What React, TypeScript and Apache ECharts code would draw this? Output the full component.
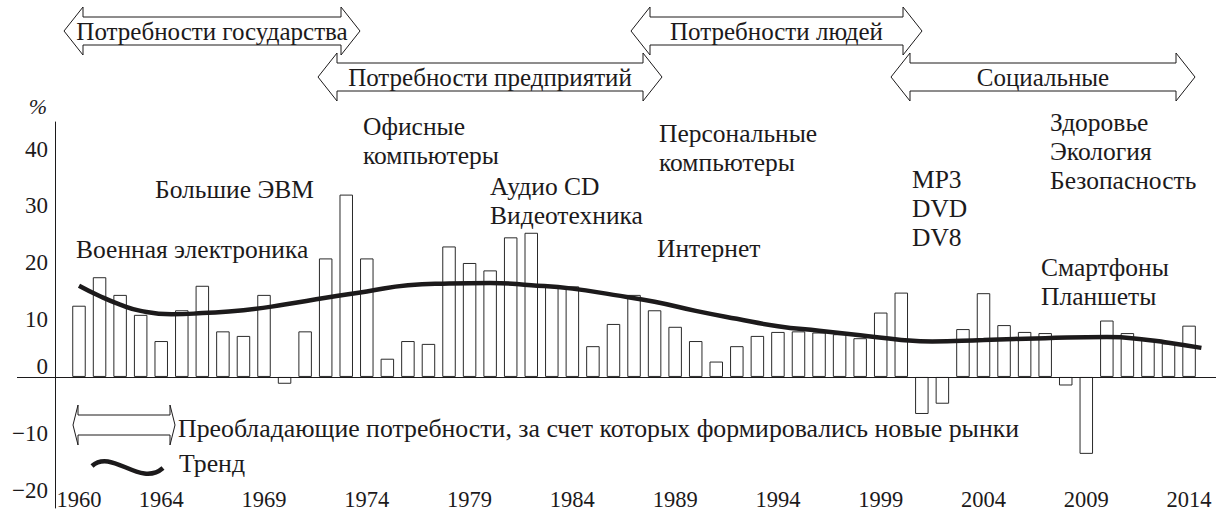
import React, { useEffect, useRef } from "react";
import * as echarts from "echarts";

// ---- data ----
const years = [
  1960, 1961, 1962, 1963, 1964, 1965, 1966, 1967, 1968, 1969,
  1970, 1971, 1972, 1973, 1974, 1975, 1976, 1977, 1978, 1979,
  1980, 1981, 1982, 1983, 1984, 1985, 1986, 1987, 1988, 1989,
  1990, 1991, 1992, 1993, 1994, 1995, 1996, 1997, 1998, 1999,
  2000, 2001, 2002, 2003, 2004, 2005, 2006, 2007, 2008, 2009,
  2010, 2011, 2012, 2013, 2014,
];
const growth = [
  12.5, 17.5, 14.4, 10.9, 6.3, 11.7, 16.0, 8.0, 7.2, 14.4,
  -1.2, 8.0, 20.8, 32.0, 20.8, 3.2, 6.3, 5.8, 22.9, 20.0,
  18.7, 24.5, 25.3, 15.9, 15.9, 5.4, 9.3, 14.4, 11.7, 8.8,
  6.3, 2.7, 5.4, 7.2, 7.9, 8.0, 7.8, 7.5, 6.8, 11.3,
  14.8, -6.5, -4.7, 8.4, 14.7, 9.1, 7.9, 7.7, -1.5, -13.5,
  9.9, 7.7, 6.5, 5.9, 9.0,
];
const trendYears = [
  1960, 1961, 1962, 1963, 1964.5, 1966, 1968, 1970, 1972, 1974,
  1976, 1978, 1980, 1982, 1984, 1986, 1988, 1990, 1992, 1994,
  1996, 1998, 2000, 2001.5, 2004, 2007, 2010, 2012, 2013, 2014.6,
];
const trendValues = [
  16.0, 14.2, 12.7, 11.6, 11.0, 11.2, 11.7, 12.7, 13.9, 15.0,
  16.1, 16.4, 16.5, 16.1, 15.5, 14.4, 13.2, 11.6, 10.2, 8.9,
  8.1, 7.3, 6.5, 6.2, 6.5, 6.8, 7.0, 6.5, 6.0, 5.1,
];
const yTicks = [-20, -10, 0, 10, 20, 30, 40];
const xTicks = [1960, 1964, 1969, 1974, 1979, 1984, 1989, 1994, 1999, 2004, 2009, 2014];
const needLabels = [
  "Потребности государства",
  "Потребности предприятий",
  "Потребности людей",
  "Социальные",
];
const annotationTexts = [
  ["Военная электроника"],
  ["Большие ЭВМ"],
  ["Офисные", "компьютеры"],
  ["Аудио CD", "Видеотехника"],
  ["Персональные", "компьютеры"],
  ["Интернет"],
  ["MP3", "DVD", "DV8"],
  ["Здоровье", "Экология", "Безопасность"],
  ["Смартфоны", "Планшеты"],
];
const legendNeeds = "Преобладающие потребности, за счет которых формировались новые рынки";
const legendTrend = "Тренд";
const unitLabel = "%";

// ---- layout (pixels) ----
const FONT = "Liberation Serif";
const INK = "#1c1a1b";
const needArrows = [
  { x1: 64, x2: 360, cy: 31 },
  { x1: 318, x2: 662, cy: 77 },
  { x1: 631, x2: 922, cy: 31 },
  { x1: 891, x2: 1195, cy: 77 },
];
const annotationPos = [
  { x: 76, y: 258 },
  { x: 155, y: 198 },
  { x: 363, y: 135 },
  { x: 490, y: 195 },
  { x: 659, y: 142 },
  { x: 657, y: 257 },
  { x: 912, y: 188 },
  { x: 1050, y: 131 },
  { x: 1041, y: 276 },
];

function arrowPoints(x1: number, x2: number, cy: number, h: number, hh: number, sh: number) {
  return [
    [x1, cy],
    [x1 + h, cy - hh],
    [x1 + h, cy - sh],
    [x2 - h, cy - sh],
    [x2 - h, cy - hh],
    [x2, cy],
    [x2 - h, cy + hh],
    [x2 - h, cy + sh],
    [x1 + h, cy + sh],
    [x1 + h, cy + hh],
  ];
}

function txt(x: number, y: number, text: string, size: number, align = "left", extra: any = {}) {
  return {
    type: "text",
    x,
    y,
    style: {
      text,
      fontFamily: FONT,
      fontSize: size,
      fill: INK,
      align,
      verticalAlign: "middle",
      ...extra,
    },
    z: 11,
  };
}

export default function App() {
  const ref = useRef<HTMLDivElement>(null);
  useEffect(() => {
    if (!ref.current) return;
    const chart = echarts.init(ref.current, null, { renderer: "svg" });

    const graphics: any[] = [];
    needArrows.forEach((a, i) => {
      graphics.push({
        type: "polygon",
        shape: { points: arrowPoints(a.x1, a.x2, a.cy, 19, 24, 14) },
        style: { fill: "none", stroke: INK, lineWidth: 1 },
        z: 10,
      });
      graphics.push(txt((a.x1 + a.x2) / 2, a.cy, needLabels[i], 25, "center"));
    });
    annotationTexts.forEach((lines, i) => {
      const p = annotationPos[i];
      lines.forEach((t, j) => {
        graphics.push(txt(p.x, p.y + j * 29 - 8.5, t, 25.5));
      });
    });
    graphics.push({
      type: "polygon",
      shape: { points: arrowPoints(73, 175, 425, 5, 20, 10) },
      style: { fill: "none", stroke: INK, lineWidth: 1 },
      z: 10,
    });
    graphics.push(txt(178, 428.5, legendNeeds, 25.8));
    graphics.push({
      type: "bezierCurve",
      shape: { x1: 92, y1: 466, cpx1: 112, cpy1: 448, cpx2: 140, cpy2: 488, x2: 163, y2: 468 },
      style: { fill: "none", stroke: INK, lineWidth: 4.5 },
      z: 10,
    });
    graphics.push(txt(179, 463.5, legendTrend, 25.8));
    graphics.push(txt(38, 106, unitLabel, 22, "center", { fontStyle: "italic" }));

    chart.setOption({
      animation: false,
      backgroundColor: "#ffffff",
      grid: { left: 17, right: 0, top: 122, bottom: 4, containLabel: false },
      xAxis: {
        type: "value",
        min: 1956.984,
        max: 2015.31,
        offset: -22,
        axisLine: { show: false, onZero: false },
        axisTick: { show: false },
        splitLine: { show: false },
        axisLabel: {
          customValues: xTicks,
          margin: 2,
          color: INK,
          fontFamily: FONT,
          fontSize: 22.5,
          formatter: (v: number) => String(v),
        },
      },
      yAxis: {
        type: "value",
        min: -23,
        max: 44.74,
        offset: -38,
        axisLine: { show: true, onZero: false, lineStyle: { color: INK, width: 1 } },
        axisTick: { show: false },
        splitLine: { show: false },
        axisLabel: {
          customValues: yTicks,
          margin: 7,
          color: INK,
          fontFamily: FONT,
          fontSize: 23,
          formatter: (v: number) => (v === 0 ? "{z|0}" : v < 0 ? "\u2212" + Math.abs(v) : String(v)),
          rich: { z: { fontFamily: FONT, fontSize: 23, color: INK, padding: [0, 0, 20, 0] } },
        },
      },
      series: [
        {
          type: "bar",
          data: years.map((y, i) => [y, growth[i]]),
          barWidth: 13.5,
          itemStyle: { color: "#ffffff", borderColor: "#2a2a2a", borderWidth: 1 },
          markLine: {
            silent: true,
            symbol: ["none", "none"],
            label: { show: false },
            lineStyle: { color: INK, width: 1, type: "solid" },
            data: [{ yAxis: 0 }],
          },
          z: 2,
        },
        {
          type: "line",
          data: trendYears.map((y, i) => [y, trendValues[i]]),
          smooth: 0.5,
          showSymbol: false,
          lineStyle: { color: INK, width: 4.5 },
          z: 5,
        },
      ],
      graphic: graphics,
    });
    return () => chart.dispose();
  }, []);
  return <div ref={ref} style={{ width: 1216, height: 512, position: "absolute", left: 0, top: 0 }} />;
}
